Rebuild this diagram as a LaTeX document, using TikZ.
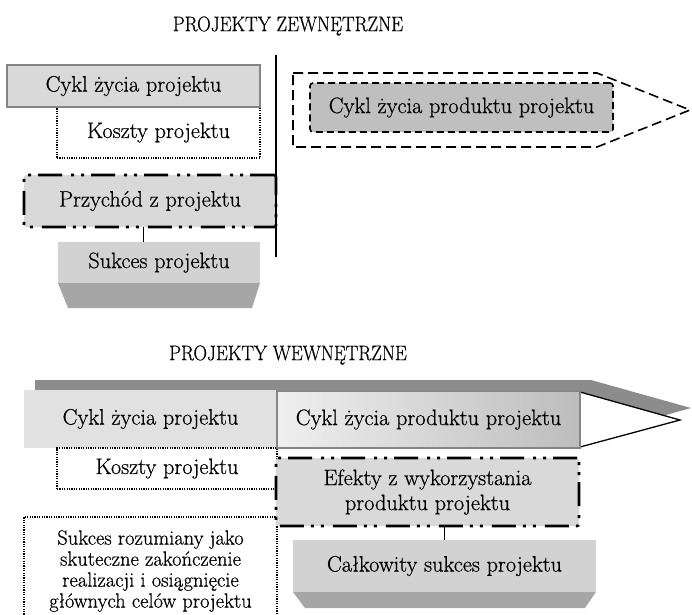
\documentclass[tikz,border=0pt]{standalone}
\usepackage{fontspec}
\setmainfont{Latin Modern Roman}[FakeBold=0.6]
\usetikzlibrary{calc}

\definecolor{boxfill}{HTML}{D9D9D9}
\definecolor{boxedge}{HTML}{858585}
\definecolor{prodfill}{HTML}{BFBFBF}
\definecolor{bandgray}{HTML}{8C8C8C}
\definecolor{facetop}{HTML}{D2D2D2}
\definecolor{facebottom}{HTML}{A6A6A6}
\definecolor{gradleft}{HTML}{EFEFEF}
\definecolor{gradright}{HTML}{BDBDBD}

\tikzset{
  txt/.style={font=\fontsize{22.3}{25}\selectfont, inner sep=0pt, outer sep=0pt, align=center},
  title/.style={font=\fontsize{21}{24}\selectfont, inner sep=0pt},
  greybox/.style={txt, fill=boxfill, draw=boxedge, line width=2pt},
  dotbox/.style={txt, draw=black, line width=1.3pt, dash pattern=on 1.2pt off 1.2pt},
  dashdotbox/.style={txt, fill=boxfill, draw=black, line width=2.6pt,
    dash pattern=on 24pt off 7pt on 3pt off 7pt on 3pt off 9pt, rounded corners=2pt},
  dashbox/.style={txt, fill=prodfill, draw=black, line width=1.6pt,
    dash pattern=on 7pt off 4pt, rounded corners=3pt},
  facebox/.style={txt, fill=facetop},
  facebase/.style={fill=facebottom},
  link/.style={draw=black, line width=0.9pt},
}

\begin{document}
\begin{tikzpicture}[x=1pt,y=-1pt]
\useasboundingbox (0,0) rectangle (692,614);

% ---------------- external projects ----------------
\node[title] (titleA) at (288,26) {\scalebox{0.9}[1]{PROJEKTY ZEWNĘTRZNE}};

\node[dotbox, minimum width=203pt, minimum height=51pt] (kosztyA) at (158.5,132.5) {Koszty projektu};
\node[greybox, minimum width=253pt, minimum height=42pt] (cyklA) at (133.5,86) {Cykl życia projektu};
\node[dashdotbox, minimum width=252pt, minimum height=52pt] (przychod) at (150,201) {Przychód z projektu};

% success block with bevelled base
\node[facebox, minimum width=202pt, minimum height=41pt] (sukces) at (159,262.5) {Sukces projektu};
\fill[facebase] (sukces.south west) -- (sukces.south east) -- ++(-8,25) -- ($(sukces.south west)+(10,25)$) -- cycle;

\coordinate (cA) at (143,0);
\draw[link] (przychod.south -| cA) -- (sukces.north -| cA);

% border between project and product life cycles
\coordinate (vtop) at (276,55);
\coordinate (vbot) at (276,257);
\draw[line width=2.4pt] (vtop) -- (vbot);

% product life cycle arrow
\coordinate (pa1) at (293,73);
\coordinate (pa2) at (597,73);
\coordinate (pa3) at (690,110);
\coordinate (pa4) at (597,147);
\coordinate (pa5) at (293,147);
\draw[line width=1.6pt, dash pattern=on 10pt off 5pt] (pa1) -- (pa2) -- (pa3) -- (pa4) -- (pa5) -- cycle;
\node[dashbox, minimum width=303pt, minimum height=49pt] (produktA) at (461.5,107.5) {Cykl życia produktu projektu};

% ---------------- internal projects ----------------
\node[title] (titleB) at (288,355) {\scalebox{0.9}[1]{PROJEKTY WEWNĘTRZNE}};

% shadow of the life cycle arrow
\fill[bandgray] (35,380) -- (591,380) -- (691,408) -- (591,436) -- (35,436) -- cycle;

\node[txt, fill=boxfill!80!white, minimum width=253pt, minimum height=58pt] (cyklB) at (150.5,419) {Cykl życia projektu};

\coordinate (ta) at (580,392);
\coordinate (tb) at (680,420);
\coordinate (tc) at (580,447);
\filldraw[fill=white, draw=black, line width=1.3pt, line join=miter] (ta) -- (tb) -- (tc) -- cycle;

\node[txt, left color=gradleft, right color=gradright, draw=boxedge, line width=2pt,
      minimum width=303pt, minimum height=57pt] (produktB) at (428.5,419.5) {Cykl życia produktu projektu};

\node[dotbox, minimum width=220pt, minimum height=41pt] (kosztyB) at (167,468.5) {Koszty projektu};

\node[dotbox, font=\fontsize{20.5}{21}\selectfont, minimum width=253pt, minimum height=108pt] (sukcesB) at (150.5,571)
  {Sukces rozumiany jako\\skuteczne zakończenie\\realizacji i osiągnięcie\\głównych celów projektu};

\node[dashdotbox, minimum width=303pt, minimum height=68pt] (efekty) at (427.5,492)
  {Efekty z wykorzystania\\produktu projektu};

\node[facebox, minimum width=303pt, minimum height=52pt] (calk) at (444.5,566) {Całkowity sukces projektu};
\fill[facebase] (calk.south west) -- (calk.south east) -- ++(-11,16) -- ($(calk.south west)+(12,16)$) -- cycle;

\draw[link] (efekty.south -| calk.north) -- (calk.north);
\end{tikzpicture}
\end{document}
